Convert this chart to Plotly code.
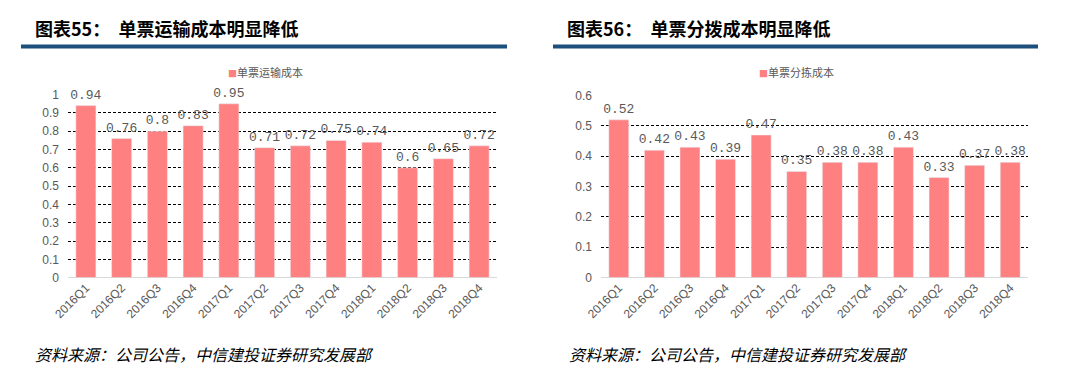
import plotly.graph_objects as go

categories = ["2016Q1", "2016Q2", "2016Q3", "2016Q4", "2017Q1", "2017Q2",
              "2017Q3", "2017Q4", "2018Q1", "2018Q2", "2018Q3", "2018Q4"]
transport_cost = [0.94, 0.76, 0.80, 0.83, 0.95, 0.71, 0.72, 0.75, 0.74, 0.60, 0.65, 0.72]
sorting_cost = [0.52, 0.42, 0.43, 0.39, 0.47, 0.35, 0.38, 0.38, 0.43, 0.33, 0.37, 0.38]
transport_labels = ["0.94", "0.76", "0.8", "0.83", "0.95", "0.71", "0.72", "0.75", "0.74", "0.6", "0.65", "0.72"]
sorting_labels = ["0.52", "0.42", "0.43", "0.39", "0.47", "0.35", "0.38", "0.38", "0.43", "0.33", "0.37", "0.38"]
left_yticks = [0, 0.1, 0.2, 0.3, 0.4, 0.5, 0.6, 0.7, 0.8, 0.9, 1]
left_yticktext = ["0", "0.1", "0.2", "0.3", "0.4", "0.5", "0.6", "0.7", "0.8", "0.9", "1"]
right_yticks = [0, 0.1, 0.2, 0.3, 0.4, 0.5, 0.6]
right_yticktext = ["0", "0.1", "0.2", "0.3", "0.4", "0.5", "0.6"]
series_names = ["单票运输成本", "单票分拣成本"]
titles = ["图表55：  单票运输成本明显降低", "图表56：  单票分拨成本明显降低"]
source_text = "资料来源：公司公告，中信建投证券研究发展部"

W, H = 1080, 379
BAR = "#FF8080"
GRAY = "#595959"

def px(x):
    return x / W

def py(y):
    return 1 - y / H

fig = go.Figure()

label_font = dict(family="Liberation Mono", size=13, color=GRAY)
fig.add_trace(go.Bar(
    x=categories, y=transport_cost, name=series_names[0],
    marker_color=BAR, text=transport_labels, textposition="outside",
    textfont=label_font, constraintext="none",
    cliponaxis=False, xaxis="x", yaxis="y", showlegend=False,
))
fig.add_trace(go.Bar(
    x=categories, y=sorting_cost, name=series_names[1],
    marker_color=BAR, text=sorting_labels, textposition="outside",
    textfont=label_font, constraintext="none",
    cliponaxis=False, xaxis="x2", yaxis="y2", showlegend=False,
))

axis_font = dict(family="Liberation Sans, Arial", size=12, color=GRAY)
xcommon = dict(type="category", tickangle=-45, tickfont=axis_font, showgrid=False,
               showline=False, ticks="", fixedrange=True, automargin=False)
ycommon = dict(tickfont=axis_font, showgrid=True, gridcolor="#000000", griddash="3px,2px",
               gridwidth=1, zeroline=True, zerolinecolor="#D9D9D9", zerolinewidth=1,
               showline=False, ticks="", ticklabelstandoff=8)

fig.update_layout(
    width=W, height=H,
    margin=dict(l=0, r=0, t=0, b=0),
    paper_bgcolor="white", plot_bgcolor="white",
    bargap=0.44,
    showlegend=False,
    xaxis=dict(domain=[px(68), px(497)], anchor="y", **xcommon),
    yaxis=dict(domain=[py(281), py(91)], anchor="x", range=[0, 1],
               tickvals=left_yticks, ticktext=left_yticktext, **ycommon),
    xaxis2=dict(domain=[px(601), px(1028)], anchor="y2", **xcommon),
    yaxis2=dict(domain=[py(281), py(92)], anchor="x2", range=[0, 0.6],
                tickvals=right_yticks, ticktext=right_yticktext, **ycommon),
)

# Legends as text with a small square marker
for lx, name in zip([226, 757], series_names):
    fig.add_annotation(text="<span style='color:%s;font-size:9px'>■</span>%s" % (BAR, name),
                       xref="paper", yref="paper", x=px(lx), y=py(68),
                       xanchor="left", yanchor="middle", showarrow=False,
                       font=dict(family="Noto Sans CJK SC", size=11, color=GRAY))

# Header lines
fig.add_shape(type="line", xref="paper", yref="paper",
              x0=px(21), x1=px(507), y0=py(41), y1=py(41),
              line=dict(color="#1B4F7C", width=4))
fig.add_shape(type="line", xref="paper", yref="paper",
              x0=px(553), x1=px(1038), y0=py(41), y1=py(41),
              line=dict(color="#1B4F7C", width=4))

# Titles
for tx, t in zip([33, 565], titles):
    fig.add_annotation(text="<b>" + t + "</b>", xref="paper", yref="paper",
                       x=px(tx), y=py(22), xanchor="left", yanchor="middle",
                       showarrow=False,
                       font=dict(family="Noto Sans CJK SC", size=18, color="#000000"))

# Source text
for sx in [33, 567]:
    fig.add_annotation(text=source_text, xref="paper", yref="paper",
                       x=px(sx), y=py(360), xanchor="left", yanchor="middle",
                       showarrow=False,
                       font=dict(family="Noto Sans CJK SC", size=16, color="#000000",
                                 style="italic"))

fig.write_html("out.html", config={"displayModeBar": False},
               post_script="document.body.style.margin='0';document.body.style.overflow='hidden';")
